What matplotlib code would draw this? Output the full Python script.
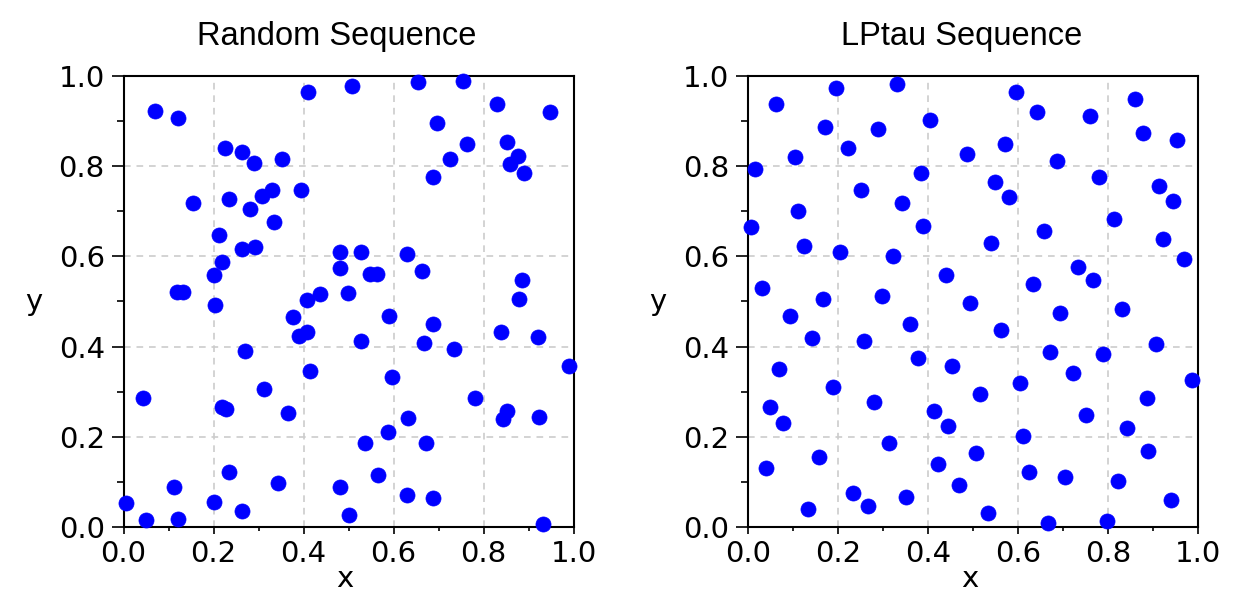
import matplotlib
matplotlib.use("Agg")
import matplotlib.pyplot as plt
from matplotlib.ticker import MultipleLocator

rand_x = [0.07, 0.12, 0.409, 0.507, 0.226, 0.264, 0.289, 0.352, 0.155, 0.234,
          0.280, 0.308, 0.331, 0.394, 0.334, 0.213, 0.264, 0.293, 0.218, 0.201,
          0.118, 0.133, 0.204, 0.481, 0.481, 0.407, 0.437, 0.498, 0.654, 0.755,
          0.831, 0.948, 0.696, 0.763, 0.726, 0.687, 0.852, 0.877, 0.859, 0.889,
          0.528, 0.629, 0.548, 0.563, 0.663, 0.886, 0.878, 0.376, 0.389, 0.408,
          0.271, 0.414, 0.044, 0.313, 0.218, 0.228, 0.365, 0.234, 0.344, 0.112,
          0.481, 0.006, 0.200, 0.264, 0.05, 0.120, 0.500, 0.591, 0.688, 0.839,
          0.920, 0.528, 0.667, 0.734, 0.991, 0.596, 0.780, 0.852, 0.843, 0.923,
          0.633, 0.587, 0.537, 0.672, 0.566, 0.629, 0.688, 0.932]
rand_y = [0.923, 0.906, 0.965, 0.978, 0.840, 0.831, 0.806, 0.815, 0.718, 0.727,
          0.706, 0.734, 0.747, 0.747, 0.676, 0.647, 0.617, 0.621, 0.588, 0.558,
          0.522, 0.522, 0.493, 0.609, 0.575, 0.504, 0.516, 0.518, 0.986, 0.990,
          0.937, 0.920, 0.895, 0.849, 0.815, 0.777, 0.853, 0.823, 0.805, 0.785,
          0.609, 0.605, 0.562, 0.562, 0.568, 0.547, 0.505, 0.466, 0.424, 0.433,
          0.391, 0.345, 0.287, 0.307, 0.265, 0.261, 0.253, 0.123, 0.098, 0.089,
          0.089, 0.053, 0.055, 0.035, 0.015, 0.018, 0.026, 0.468, 0.450, 0.433,
          0.421, 0.412, 0.409, 0.395, 0.358, 0.332, 0.287, 0.258, 0.239, 0.245,
          0.241, 0.210, 0.186, 0.186, 0.115, 0.072, 0.064, 0.007]

lptau_x = [0.195, 0.330, 0.061, 0.170, 0.288, 0.404, 0.221, 0.104, 0.486, 0.015,
           0.384, 0.250, 0.111, 0.342, 0.007, 0.389, 0.124, 0.204, 0.321, 0.439,
           0.031, 0.166, 0.296, 0.492,
           0.595, 0.641, 0.759, 0.859, 0.876, 0.952, 0.570, 0.687, 0.548, 0.579,
           0.780, 0.913, 0.943, 0.813, 0.658, 0.539, 0.922, 0.969, 0.733, 0.767,
           0.632,
           0.093, 0.359, 0.141, 0.258, 0.068, 0.376, 0.452, 0.188, 0.048, 0.279,
           0.078, 0.413, 0.443, 0.313, 0.158, 0.039, 0.422, 0.468, 0.233, 0.350,
           0.267, 0.132,
           0.693, 0.830, 0.561, 0.906, 0.670, 0.788, 0.721, 0.985, 0.604, 0.515,
           0.885, 0.750, 0.842, 0.611, 0.506, 0.889, 0.624, 0.704, 0.822, 0.939,
           0.532, 0.667, 0.796]
lptau_y = [0.974, 0.982, 0.937, 0.886, 0.882, 0.902, 0.840, 0.820, 0.827, 0.794,
           0.785, 0.748, 0.701, 0.718, 0.665, 0.668, 0.622, 0.609, 0.601, 0.559,
           0.529, 0.505, 0.512, 0.496,
           0.965, 0.920, 0.911, 0.949, 0.874, 0.857, 0.849, 0.812, 0.764, 0.731,
           0.777, 0.756, 0.723, 0.684, 0.656, 0.630, 0.639, 0.594, 0.576, 0.547,
           0.539,
           0.468, 0.450, 0.420, 0.412, 0.350, 0.375, 0.357, 0.311, 0.265, 0.278,
           0.231, 0.257, 0.224, 0.186, 0.156, 0.131, 0.140, 0.093, 0.076, 0.067,
           0.047, 0.039,
           0.475, 0.483, 0.437, 0.405, 0.387, 0.383, 0.341, 0.327, 0.320, 0.295,
           0.287, 0.248, 0.220, 0.202, 0.165, 0.169, 0.123, 0.110, 0.102, 0.060,
           0.032, 0.008, 0.014]

titles = ["Random Sequence", "LPtau Sequence"]
tick_vals = [0.0, 0.2, 0.4, 0.6, 0.8, 1.0]
tick_labels = ["0.0", "0.2", "0.4", "0.6", "0.8", "1.0"]

W, H = 1251, 593
fig = plt.figure(figsize=(W / 100, H / 100), dpi=100)

ax_w = 450 / W
ax_h = 451 / H
bottom = (H - 527) / H
lefts = [123.5 / W, 748.3 / W]

datasets = [(rand_x, rand_y), (lptau_x, lptau_y)]

for i, ((xs, ys), title) in enumerate(zip(datasets, titles)):
    ax = fig.add_axes([lefts[i], bottom, ax_w, ax_h])
    ax.scatter(xs, ys, s=118, color="#0000ff", edgecolors="#0000ff",
               linewidths=0.5, zorder=3, clip_on=False)
    ax.set_xlim(0, 1)
    ax.set_ylim(0, 1)
    ax.set_xticks(tick_vals)
    ax.set_xticklabels(tick_labels)
    ax.set_yticks(tick_vals)
    ax.set_yticklabels(tick_labels)
    ax.xaxis.set_minor_locator(MultipleLocator(0.1))
    ax.yaxis.set_minor_locator(MultipleLocator(0.1))
    ax.tick_params(axis="y", which="major", direction="out", length=8.5,
                   width=1.2, labelsize=21, pad=5, color="black")
    ax.tick_params(axis="y", which="minor", direction="out", length=5,
                   width=1.2, color="black")
    ax.tick_params(axis="x", which="major", direction="out", length=5,
                   width=1.2, labelsize=21, pad=4, color="black")
    ax.tick_params(axis="x", which="minor", direction="out", length=3,
                   width=1.2, color="black")
    for lab in ax.get_xticklabels() + ax.get_yticklabels():
        lab.set_fontfamily("DejaVu Sans")
    ax.grid(True, which="major", color="#cccccc", linestyle=(0, (4, 3.5)),
            linewidth=1.2, zorder=0)
    for sp in ax.spines.values():
        sp.set_linewidth(1.5)
        sp.set_color("black")
    ax.text(0.473, 1.087, title, transform=ax.transAxes, ha="center",
            va="center", fontsize=23.5, family="Liberation Sans")
    ax.text(-0.2, 0.481, "y", transform=ax.transAxes, ha="center",
            va="baseline", fontsize=21, family="DejaVu Sans")
    ax.text(0.492, -0.134, "x", transform=ax.transAxes, ha="center",
            va="baseline", fontsize=21, family="DejaVu Sans")

fig.savefig("out.png", dpi=100)
